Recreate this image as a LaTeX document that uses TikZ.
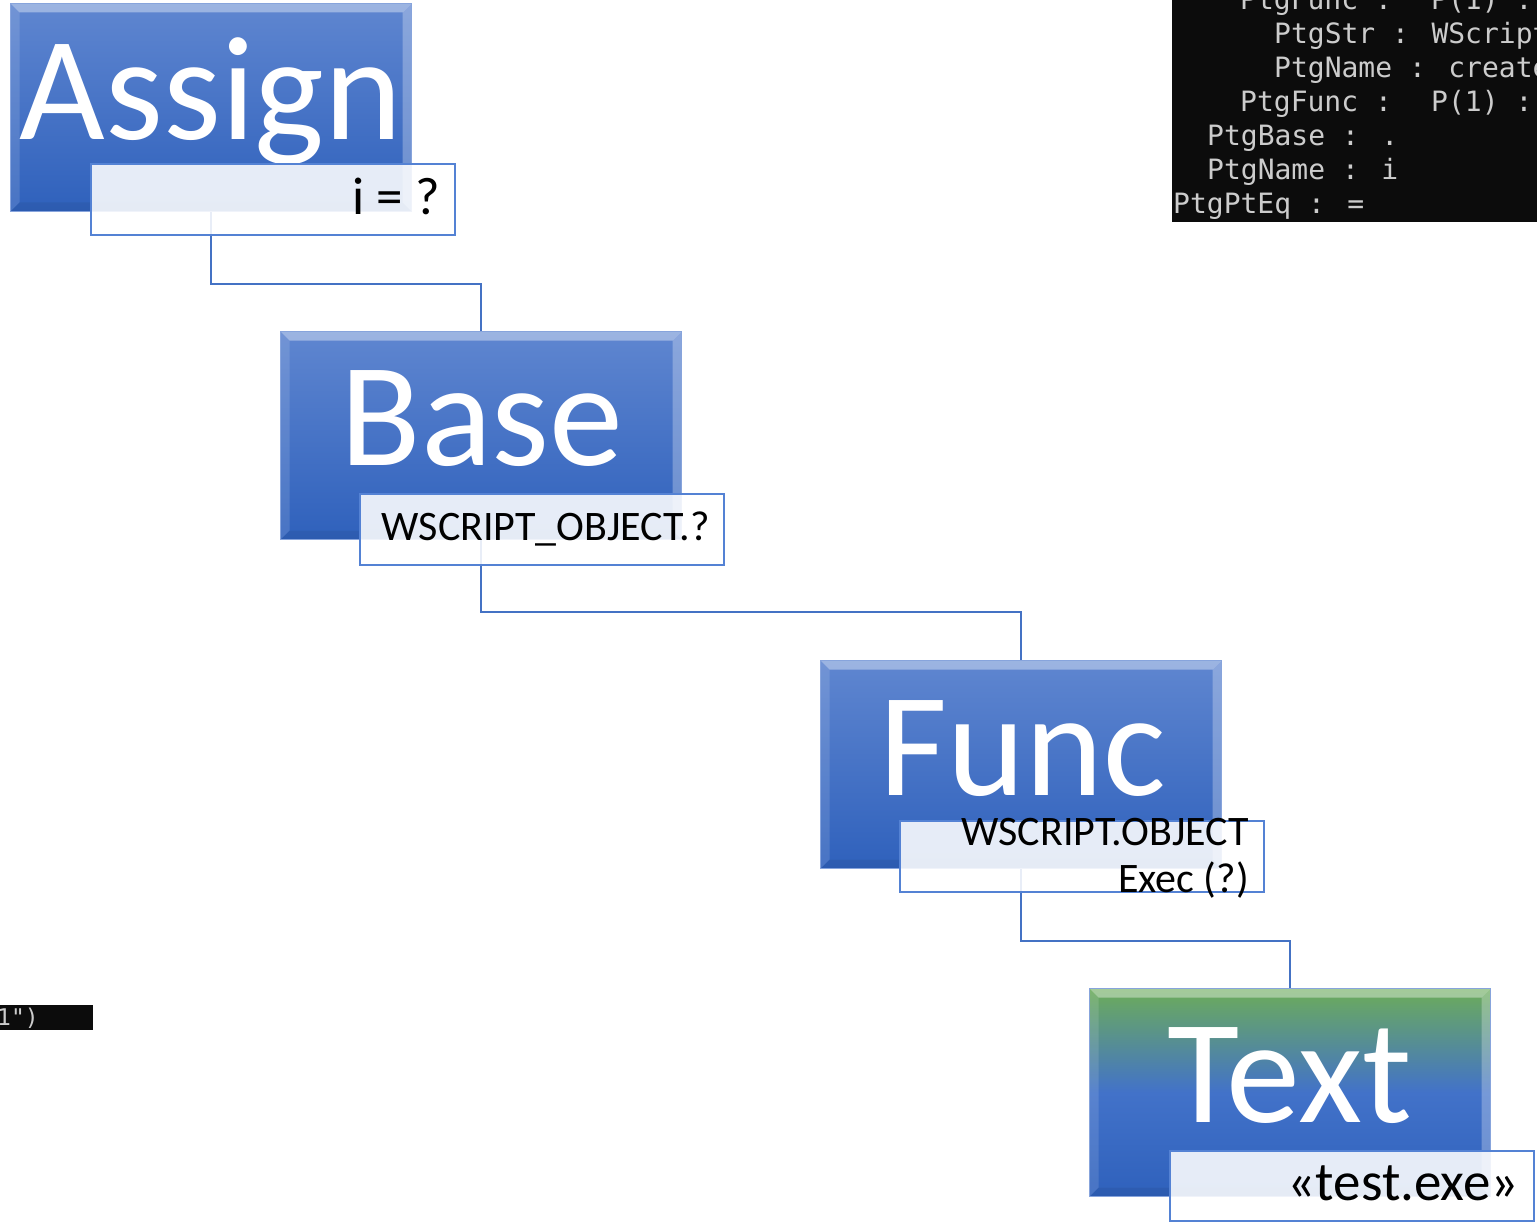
\documentclass[tikz,border=0pt]{standalone}
\usepackage{fontspec}
\setmainfont{Carlito}
\newfontfamily\termfont{DejaVu Sans Mono}
\usetikzlibrary{backgrounds}
\definecolor{topblue}{RGB}{95,134,208}
\definecolor{midblue}{RGB}{66,114,201}
\definecolor{botblue}{RGB}{47,97,188}
\definecolor{topgreen}{RGB}{108,172,90}
\definecolor{linkblue}{RGB}{68,114,196}
\definecolor{subedge}{RGB}{84,130,212}
\definecolor{termgray}{RGB}{204,204,204}
\definecolor{termbg}{RGB}{12,12,12}
\begin{document}
\begin{tikzpicture}[x=1pt,y=-1pt,
  mainbox/.style={minimum width=401pt, minimum height=208pt, inner sep=0pt,
    anchor=north west, top color=topblue, bottom color=botblue,
    draw=topblue!75!white, line width=1pt,
    path picture={
      \coordinate (pnw) at (path picture bounding box.north west);
      \coordinate (pne) at (path picture bounding box.north east);
      \coordinate (psw) at (path picture bounding box.south west);
      \coordinate (pse) at (path picture bounding box.south east);
      \fill[white,opacity=0.38] (pnw) -- (pne) -- ([xshift=-9pt,yshift=-9pt]pne) -- ([xshift=9pt,yshift=-9pt]pnw) -- cycle;
      \fill[white,opacity=0.12] (pnw) -- ([xshift=9pt,yshift=-9pt]pnw) -- ([xshift=9pt,yshift=9pt]psw) -- (psw) -- cycle;
      \fill[white,opacity=0.28] (pne) -- (pse) -- ([xshift=-9pt,yshift=9pt]pse) -- ([xshift=-9pt,yshift=-9pt]pne) -- cycle;
      \fill[black,opacity=0.06] (psw) -- (pse) -- ([xshift=-9pt,yshift=9pt]pse) -- ([xshift=9pt,yshift=9pt]psw) -- cycle;
    }},
  greenbox/.style={mainbox, top color=topgreen, bottom color=botblue, middle color=midblue},
  subbox/.style={minimum width=364pt, minimum height=71pt, inner sep=0pt,
    anchor=north west, fill=white, fill opacity=0.88, draw=subedge, line width=1.8pt},
  biglabel/.style={anchor=base, text=white, inner sep=0pt, font=\fontsize{148}{148}\selectfont},
  sublabel/.style={anchor=base east, text=black, inner sep=0pt, font=\fontsize{42}{48}\selectfont},
  conn/.style={draw=linkblue, line width=2.2pt},
  termtext/.style={anchor=base west, text=termgray, inner sep=0pt, font=\termfont\fontsize{28}{34}\selectfont},
]
\useasboundingbox (0,0) rectangle (1537,1225);

% main boxes
\node[mainbox] (assign) at (10,3) {};
\node[mainbox] (base) at (280,331) {};
\node[mainbox] (func) at (820,660) {};
\node[greenbox] (text) at (1089,988) {};

% big labels
\node[biglabel] (assignlbl) at (211,140) {Assign};
\node[biglabel] (baselbl) at (482,465) {Base};
\node[biglabel] (funclbl) at (1023,795) {Func};
\node[biglabel] (textlbl) at (1290,1122) {Text};

% sub boxes
\node[subbox] (assignsub) at (90,163) {};
\node[subbox] (basesub) at (359,493) {};
\node[subbox] (funcsub) at (899,820) {};
\node[subbox, minimum height=70pt] (textsub) at (1169,1150) {};

% sub labels
\node[sublabel, font=\fontsize{53}{60}\selectfont] (assignval) at (440,215) {i = ?};
\node[sublabel] (baseval) at (710,540) {WSCRIPT\_OBJECT.?};
\node[sublabel] (funcval) at (1249,845) {WSCRIPT.OBJECT};
\node[sublabel] (funcval2) at (1249,892) {Exec (?)};
\node[sublabel, font=\fontsize{55}{62}\selectfont] (textval) at (1519,1200) {«test.exe»};

% terminal (top right)
\fill[termbg] (1172,0) rectangle (1537,222);
\begin{scope}
  \clip (1172,0) rectangle (1537,222);
  \node[termtext] (t1) at (1240,10) {PtgFunc :~ P(1) :};
  \node[termtext] (t2) at (1274,44) {PtgStr : WScript};
  \node[termtext] (t3) at (1274,78) {PtgName : create};
  \node[termtext] (t4) at (1240,112) {PtgFunc :~ P(1) :};
  \node[termtext] (t5) at (1207,146) {PtgBase : .};
  \node[termtext] (t6) at (1207,180) {PtgName : i};
  \node[termtext] (t7) at (1173,214) {PtgPtEq : =};
\end{scope}

% terminal fragment (bottom left)
\fill[termbg] (0,1005) rectangle (93,1030);
\begin{scope}
  \clip (0,1005) rectangle (93,1030);
  \node[termtext, font=\termfont\fontsize{23}{26}\selectfont] (frag) at (-3,1025) {1")};
\end{scope}

% connectors and background
\begin{scope}[on background layer]
  \fill[white] (0,0) rectangle (1537,1225);
  \draw[conn] (assign.south) -- ++(0,72) -| (base.north);
  \draw[conn] (base.south) -- ++(0,72) -| (func.north);
  \draw[conn] (func.south) -- ++(0,72) -| (text.north);
\end{scope}
\end{tikzpicture}
\end{document}
